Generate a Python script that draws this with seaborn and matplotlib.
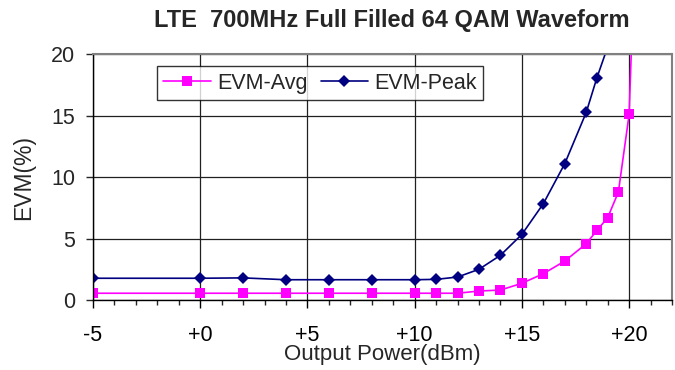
import numpy as np
import pandas as pd
import matplotlib
matplotlib.use("Agg")
import matplotlib.pyplot as plt
import seaborn as sns
from matplotlib.ticker import MultipleLocator, FixedLocator

# output power (dBm) and EVM (%)
peak_x = [-5, 0, 2, 4, 6, 8, 10, 11, 12, 13, 14, 15, 16, 17, 18, 18.5, 19]
peak_y = [1.77, 1.77, 1.8, 1.65, 1.65, 1.65, 1.65, 1.68, 1.87, 2.5, 3.64, 5.34, 7.84, 11.1, 15.27, 18.1, 20.6]
avg_x = [-5, 0, 2, 4, 6, 8, 10, 11, 12, 13, 14, 15, 16, 17, 18, 18.5, 19, 19.5, 20, 20.5]
avg_y = [0.55, 0.55, 0.55, 0.55, 0.55, 0.55, 0.55, 0.55, 0.55, 0.73, 0.81, 1.36, 2.14, 3.17, 4.58, 5.67, 6.7, 8.79, 15.1, 40]
xticks = [-5, 0, 5, 10, 15, 20]
xtick_labels = ["-5", "+0", "+5", "+10", "+15", "+20"]
yticks = [0, 5, 10, 15, 20]

sns.set_style("white")
plt.rcParams["font.family"] = ["Liberation Sans", "DejaVu Sans"]

fig = plt.figure(figsize=(6.75, 3.7), dpi=100)
ax = fig.add_axes([93 / 675, 1 - 300 / 370, (672 - 93) / 675, (300 - 54.3) / 370])

avg_df = pd.DataFrame({"x": avg_x, "y": avg_y})
peak_df = pd.DataFrame({"x": peak_x, "y": peak_y})

sns.lineplot(data=avg_df, x="x", y="y", ax=ax, color="#FF00FF", marker="s",
             markersize=7, markeredgewidth=0, linewidth=1.2, label="EVM-Avg", sort=False)
sns.lineplot(data=peak_df, x="x", y="y", ax=ax, color="#000080", marker="D",
             markersize=6, markeredgewidth=0, linewidth=1.2, label="EVM-Peak", sort=False)

ax.set_xlim(-5, 22)
ax.set_ylim(0, 20)
ax.xaxis.set_major_locator(FixedLocator(xticks))
ax.set_xticklabels(xtick_labels)
ax.xaxis.set_minor_locator(MultipleLocator(1))
ax.set_yticks(yticks)

ax.grid(True, which="major", color="#202020", linewidth=0.9)
ax.set_axisbelow(True)
for side in ["top", "right"]:
    ax.spines[side].set_color("#808080")
    ax.spines[side].set_linewidth(1.5)
for side in ["left", "bottom"]:
    ax.spines[side].set_color("black")
    ax.spines[side].set_linewidth(1.0)

ax.tick_params(axis="x", which="major", direction="out", length=6, width=1,
               pad=12, labelsize=15.5, bottom=True, colors="black")
ax.tick_params(axis="x", which="minor", direction="out", length=3.5, width=1, bottom=True)
ax.tick_params(axis="y", which="major", direction="out", length=5, width=1,
               pad=8, labelsize=15.5, left=True)

ax.set_xlabel("Output Power(dBm)", fontsize=16)
ax.set_ylabel("EVM(%)", fontsize=16.5)
ax.xaxis.set_label_coords(0.5, -0.18)
ax.yaxis.set_label_coords(-0.1, 0.5)

leg = ax.legend(loc="upper left", bbox_to_anchor=(64 / 579, 1 - 12 / 245.7),
                fontsize=15.5, ncol=2, frameon=True, fancybox=False,
                handlelength=2.2, handletextpad=0.3, columnspacing=0.6,
                borderpad=0.3, borderaxespad=0)
leg.get_frame().set_edgecolor("black")
leg.get_frame().set_linewidth(1.0)

fig.text(392 / 675, 1 - 20 / 370, "LTE  700MHz Full Filled 64 QAM Waveform",
         ha="center", va="center", fontsize=17, fontweight="bold")

fig.savefig("out.png", dpi=100, facecolor="white")
